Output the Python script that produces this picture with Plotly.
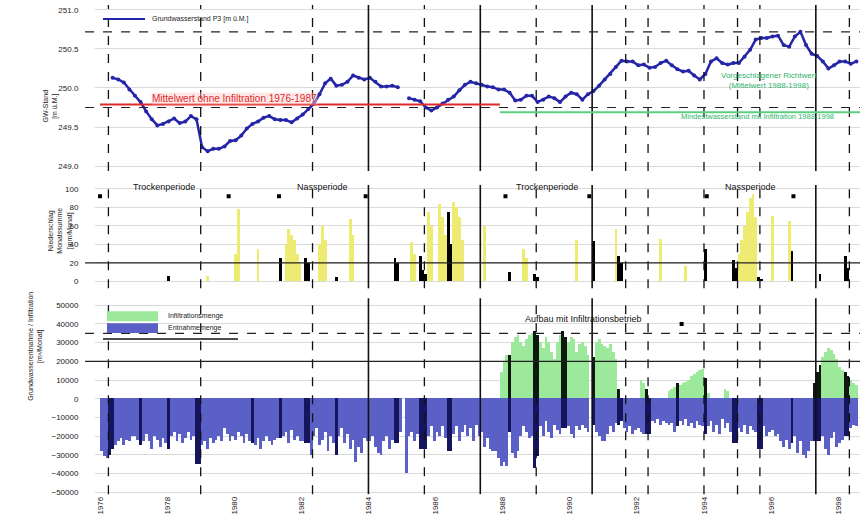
import plotly.graph_objects as go

FONT = "Liberation Sans, Arial, sans-serif"
first_year = 1976

# ---------------------------------------------------------------- data ----
# Groundwater level [m ü.M.], one reading every second month from 1976-05
gw_start = "1976-05"
gw_level = [
    250.13, 250.11, 250.07, 249.98, 249.90, 249.82, 249.70, 249.60,
    249.52, 249.54, 249.57, 249.61, 249.55, 249.57, 249.64, 249.60,
    249.24, 249.19, 249.22, 249.22, 249.25, 249.32, 249.33, 249.39,
    249.48, 249.54, 249.57, 249.62, 249.64, 249.60, 249.59, 249.59,
    249.56, 249.61, 249.66, 249.73, 249.80, 249.92, 250.06, 250.12,
    250.03, 250.04, 250.08, 250.16, 250.13, 250.11, 250.13, 250.08,
    250.02, 250.02, 250.03, 250.01, None, 249.87, 249.85, 249.83,
    249.75, 249.71, 249.75, 249.80, 249.85, 249.89, 249.97, 250.04,
    250.08, 250.06, 250.04, 250.02, 250.01, 249.98, 249.98, 249.94,
    249.84, 249.85, 249.90, 249.90, 249.82, 249.85, 249.89, 249.87,
    249.82, 249.89, 249.94, 249.92, 249.85, 249.92, 249.96, 250.03,
    250.11, 250.18, 250.27, 250.35, 250.34, 250.34, 250.29, 250.30,
    250.26, 250.27, 250.32, 250.35, 250.29, 250.24, 250.21, 250.22,
    250.16, 250.11, 250.18, 250.34, 250.38, 250.32, 250.30, 250.32,
    250.32, 250.40, 250.49, 250.62, 250.64, 250.64, 250.66, 250.67,
    250.55, 250.53, 250.66, 250.72, 250.55, 250.44, 250.41, 250.34,
    250.25, 250.29, 250.34, 250.34, 250.31, 250.34,
]

# Monthly precipitation [mm/Monat], from 1976-01
precip_start = "1976-01"
precip = [
    0, 0, 0, 0, 0, 0, 0, 0, 0, 0, 0, 0,            # 1976
    0, 0, 0, 0, 0, 0, 0, 0, 0, 0, 0, 0,            # 1977
    6, 0, 0, 0, 0, 0, 0, 0, 0, 0, 0, 0,            # 1978
    0, 0, 6, 0, 0, 0, 0, 0, 0, 0, 0, 0,            # 1979
    30, 78, 0, 0, 0, 0, 0, 0, 35, 0, 0, 0,         # 1980
    0, 0, 0, 0, 25, 0, 40, 57, 50, 45, 30, 20,     # 1981
    0, 25, 20, 0, 0, 0, 40, 60, 45, 0, 0, 0,       # 1982
    5, 0, 0, 0, 0, 68, 50, 0, 0, 0, 0, 0,          # 1983
    0, 0, 0, 0, 0, 0, 0, 0, 0, 25, 20, 0,          # 1984
    0, 0, 0, 43, 30, 0, 28, 12, 8, 75, 60, 0,      # 1985
    0, 84, 70, 50, 75, 40, 86, 80, 70, 45, 0, 0,   # 1986
    0, 0, 0, 0, 0, 60, 0, 0, 0, 0, 0, 0,           # 1987
    0, 0, 10, 0, 0, 0, 0, 35, 25, 0, 0, 8,         # 1988
    5, 0, 0, 0, 0, 0, 0, 0, 0, 0, 0, 0,            # 1989
    0, 0, 45, 0, 0, 0, 0, 0, 44, 0, 0, 0,          # 1990
    0, 0, 0, 0, 57, 27, 20, 0, 0, 0, 0, 0,         # 1991
    0, 0, 0, 0, 0, 0, 0, 0, 46, 0, 0, 0,           # 1992
    0, 0, 0, 0, 0, 17, 0, 0, 0, 0, 0, 0,           # 1993
    35, 0, 0, 0, 0, 0, 0, 0, 0, 0, 23, 15,         # 1994
    30, 45, 60, 75, 90, 95, 70, 5, 3, 0, 0, 0,     # 1995
    71, 0, 0, 0, 0, 0, 65, 33, 0, 0, 0, 0,         # 1996
    0, 0, 0, 0, 0, 8, 0, 0, 0, 0, 0, 0,            # 1997
    0, 0, 28, 15, 0, 0, 0,                         # 1998
]

# Monthly groundwater withdrawal [1000 m³/Monat], from 1976-01 (negative)
withdrawal_start = "1976-01"
withdrawal_k = [
    -28, -31, -32, -30, -27, -25, -23, -21, -25, -22, -23, -20,   # 1976
    -20, -22, -25, -23, -19, -23, -27, -20, -22, -26, -21, -24,   # 1977
    -27, -20, -18, -23, -19, -24, -21, -18, -22, -20, -35, -35,   # 1978
    -25, -23, -27, -21, -24, -22, -20, -23, -16, -19, -23, -20,   # 1979
    -22, -18, -20, -24, -19, -23, -24, -25, -21, -27, -23, -20,   # 1980
    -23, -25, -22, -21, -21, -20, -18, -24, -17, -22, -20, -23,   # 1981
    -23, -24, -24, -30, -20, -16, -25, -22, -18, -28, -20, -24,   # 1982
    -30, -20, -16, -24, -19, -27, -22, -34, -26, -29, -21, -23,   # 1983
    -23, -20, -26, -29, -30, -23, -20, -27, -22, -24, -24, -18,   # 1984
    0, -40, -20, -18, -23, -19, -27, -27, -27, -20, -15, -23,     # 1985
    -18, -20, -15, -21, -28, -28, -19, -15, -23, -18, -14, -20,   # 1986
    -16, -23, -14, -20, -18, -26, -21, -27, -28, -28, -32, -36,   # 1987
    -34, -36, -18, -29, -32, -28, -20, -15, -18, -21, -20, -37,   # 1988
    -31, -15, -20, -12, -18, -21, -14, -17, -19, -16, -16, -15,   # 1989
    -19, -21, -15, -17, -14, -16, -18, 0, -14, -18, -20, -23,     # 1990
    -23, -19, -15, -18, -13, -14, -12, -16, -18, -15, -19, -17,   # 1991
    -16, -18, -19, -19, -19, -12, -13, -11, -14, -12, -13, -14,   # 1992
    -13, -18, -15, -12, -14, -11, -15, -13, -16, -12, -14, -15,   # 1993
    -19, -15, -12, -18, -14, -19, -11, -16, -13, -18, -24, -24,   # 1994
    -16, -18, -14, -19, -15, -17, -18, -27, -27, -15, -20, -18,   # 1995
    -17, -20, -19, -23, -26, -22, -27, -24, -20, -29, -23, -30,   # 1996
    -32, -28, -23, -23, -23, -23, -20, -27, -30, -21, -18, -26,   # 1997
    -24, -22, -20, -20, -16, -14, -15,                            # 1998
]

# Monthly infiltration [1000 m³/Monat], from 1987-12
infiltration_start = "1987-12"
infiltration_k = [
    14,                                                # 1987
    20, 23, 23, 30, 33, 34, 30, 28, 32, 34, 35, 36,    # 1988
    34, 30, 27, 33, 30, 25, 21, 30, 34, 36, 33, 30,    # 1989
    33, 32, 25, 29, 30, 28, 23, 0, 22, 30, 32, 29,     # 1990
    28, 27, 29, 25, 21, 5, 0, 0, 0, 0, 0, 0,           # 1991
    0, 10, 8, 5, 0, 0, 0, 0, 0, 0, 0, 4,               # 1992
    5, 6, 8, 7, 8, 9, 10, 12, 13, 14, 15, 16,          # 1993
    11, 3, 0, 0, 0, 0, 0, 5, 4, 0, 0, 0,               # 1994
    0, 0, 0, 0, 0, 0, 0, 0, 0, 0, 0, 0,                # 1995
    0, 0, 0, 0, 0, 0, 0, 0, 0, 0, 0, 0,                # 1996
    0, 0, 0, 8, 14, 18, 22, 25, 27, 26, 24, 21,        # 1997
    17, 15, 14, 12, 10, 8, 7,                          # 1998
]

# Months of the measurement campaigns (drawn dark)
campaign_months = [
    "1976-04", "1976-05", "1977-03", "1978-01", "1978-11", "1978-12",
    "1980-07", "1981-05", "1982-02", "1982-03", "1983-01", "1984-10",
    "1984-11", "1985-07", "1985-08", "1985-09", "1986-05", "1986-06",
    "1988-03", "1988-12", "1989-01", "1989-10", "1989-11", "1990-09",
    "1991-06", "1991-07", "1992-04", "1992-05", "1993-03", "1994-01",
    "1994-11", "1994-12", "1995-08", "1995-09", "1996-08", "1997-04",
    "1997-05", "1997-06", "1998-03", "1998-04",
]

# Event markers (vertical lines)
events_dashed = ["1976-04", "1979-01", "1982-05", "1985-09", "1989-01",
                 "1991-09", "1992-05", "1994-01", "1995-01", "1995-09",
                 "1998-05"]
events_solid = ["1984-01", "1987-05", "1990-09", "1997-05"]

# Dry / wet periods
period_starts = ["1976-01", "1981-05", "1988-02", "1994-02"]
period_ends = ["1979-11", "1983-12", "1990-08", "1996-09"]
period_names = ["Trockenperiode", "Nassperiode", "Trockenperiode", "Nassperiode"]

# Reference levels
gw_band_upper = 250.72
gw_band_lower = 249.75
gw_mean_without = 249.79
gw_mean_with = 249.69
precip_threshold = 20
flow_dashed = 35000
flow_solid = 20000
infiltration_begin = "1987-12"
build_up_end = "1993-05"

year_ticks = list(range(1976, 1999, 2))
gw_ticks = [249.0, 249.5, 250.0, 250.5, 251.0]
precip_ticks = [0, 20, 40, 60, 80, 100]
flow_ticks = list(range(-50000, 50001, 10000))


# ------------------------------------------------------------ helpers ----
def month_index(tag):
    y, m = tag.split("-")
    return (int(y) - first_year) * 12 + int(m) - 1


def month_center(k):
    return first_year + (k + 0.5) / 12.0


def month_start(tag):
    return first_year + month_index(tag) / 12.0


campaign_set = {month_index(t) for t in campaign_months}

gw_x = [month_center(month_index(gw_start) + 2 * i) for i in range(len(gw_level))]

p0 = month_index(precip_start)
precip_x = [month_center(p0 + i) for i in range(len(precip))]
precip_col = ["#000000" if (p0 + i) in campaign_set else "#eeeb72"
              for i in range(len(precip))]

w0 = month_index(withdrawal_start)
wd_x = [month_center(w0 + i) for i in range(len(withdrawal_k))]
wd_y = [v * 1000 for v in withdrawal_k]
wd_col = ["#15155e" if (w0 + i) in campaign_set else "#5b60c6"
          for i in range(len(withdrawal_k))]

i0 = month_index(infiltration_start)
inf_x = [month_center(i0 + i) for i in range(len(infiltration_k))]
inf_y = [v * 1000 for v in infiltration_k]
inf_col = ["#0d1a0d" if (i0 + i) in campaign_set else "#9ce99c"
           for i in range(len(infiltration_k))]

x_lo, x_hi = 1975.85, 1998.65

# ------------------------------------------------------------- figure ----
fig = go.Figure()

fig.add_trace(go.Scatter(
    x=gw_x, y=gw_level, mode="lines+markers", connectgaps=False,
    line=dict(color="#2525a8", width=2.5), marker=dict(size=4, color="#2525a8"),
    xaxis="x", yaxis="y", showlegend=False))

fig.add_trace(go.Bar(
    x=precip_x, y=precip, width=1 / 12, marker=dict(color=precip_col, line=dict(width=0)),
    xaxis="x2", yaxis="y2", showlegend=False))

fig.add_trace(go.Bar(
    x=wd_x, y=wd_y, width=1 / 12, marker=dict(color=wd_col, line=dict(width=0)),
    xaxis="x3", yaxis="y3", showlegend=False))

fig.add_trace(go.Bar(
    x=inf_x, y=inf_y, width=1 / 12, marker=dict(color=inf_col, line=dict(width=0)),
    xaxis="x3", yaxis="y3", showlegend=False))

# period markers
dots_x = [month_start(t) for t in period_starts + period_ends]
fig.add_trace(go.Scatter(
    x=dots_x, y=[92] * len(dots_x), mode="markers",
    marker=dict(symbol="square", size=4, color="black"),
    xaxis="x2", yaxis="y2", showlegend=False))

fig.add_trace(go.Scatter(
    x=[month_start(build_up_end)], y=[40000], mode="markers",
    marker=dict(symbol="square", size=4, color="black"),
    xaxis="x3", yaxis="y3", showlegend=False))

tickfont = dict(family=FONT, size=8, color="#222")
grid = "#dadada"

fig.update_layout(
    width=864, height=523,
    margin=dict(l=95, r=4, t=0, b=0),
    paper_bgcolor="white", plot_bgcolor="white",
    barmode="overlay", bargap=0,
    font=dict(family=FONT, size=8, color="#222"),
    xaxis=dict(domain=[0, 1], range=[x_lo, x_hi], anchor="y",
               showticklabels=False, showgrid=False, zeroline=False, ticks=""),
    xaxis2=dict(domain=[0, 1], range=[x_lo, x_hi], anchor="y2", matches="x",
                showticklabels=False, showgrid=False, zeroline=False, ticks=""),
    xaxis3=dict(domain=[0, 1], range=[x_lo, x_hi], anchor="y3", matches="x",
                tickvals=year_ticks, ticktext=[str(y) for y in year_ticks],
                tickangle=-90, tickfont=tickfont, showgrid=False,
                zeroline=False, ticks=""),
    yaxis=dict(domain=[1 - 172 / 523, 1 - 5 / 523], range=[248.936, 251.064],
               tickvals=gw_ticks, tickformat=".1f", tickfont=tickfont,
               ticks="outside", ticklen=14, tickcolor="rgba(0,0,0,0)",
               showgrid=True, gridcolor=grid, zeroline=False),
    yaxis2=dict(domain=[1 - 290 / 523, 1 - 186 / 523], range=[-7.5, 104.3],
                tickvals=precip_ticks, tickfont=tickfont,
                ticks="outside", ticklen=14, tickcolor="rgba(0,0,0,0)",
                showgrid=True, gridcolor=grid, zeroline=False),
    yaxis3=dict(domain=[1 - 497 / 523, 1 - 300 / 523], range=[-51064, 53723],
                tickvals=flow_ticks, tickformat="d", tickfont=tickfont,
                ticks="outside", ticklen=14, tickcolor="rgba(0,0,0,0)",
                showgrid=True, gridcolor=grid, zeroline=False),
)

shapes = []
# vertical event lines in each panel
for ref in ["y domain", "y2 domain", "y3 domain"]:
    xr = {"y domain": "x", "y2 domain": "x2", "y3 domain": "x3"}[ref]
    for t in events_dashed:
        shapes.append(dict(type="line", xref=xr, yref=ref, x0=month_start(t), x1=month_start(t),
                           y0=0, y1=1, line=dict(color="#111", width=1.3, dash="dash")))
    for t in events_solid:
        shapes.append(dict(type="line", xref=xr, yref=ref, x0=month_start(t), x1=month_start(t),
                           y0=0, y1=1, line=dict(color="#111", width=1.6)))

# horizontal reference lines
for yv in (gw_band_upper, gw_band_lower):
    shapes.append(dict(type="line", xref="x domain", yref="y", x0=-0.013, x1=1,
                       y0=yv, y1=yv, line=dict(color="#222", width=1.2, dash="dash")))
shapes.append(dict(type="line", xref="x", yref="y", x0=first_year, x1=month_start(infiltration_begin),
                   y0=gw_mean_without, y1=gw_mean_without, line=dict(color="#e02a2a", width=2)))
shapes.append(dict(type="line", xref="x", yref="y", x0=month_start(infiltration_begin), x1=x_hi,
                   y0=gw_mean_with, y1=gw_mean_with, line=dict(color="#5ccf7e", width=2)))
shapes.append(dict(type="line", xref="x domain", yref="y2", x0=-0.013, x1=1,
                   y0=precip_threshold, y1=precip_threshold, line=dict(color="#222", width=1.2)))
shapes.append(dict(type="line", xref="x domain", yref="y3", x0=-0.013, x1=1,
                   y0=flow_dashed, y1=flow_dashed, line=dict(color="#222", width=1.2, dash="dash")))
shapes.append(dict(type="line", xref="x domain", yref="y3", x0=-0.013, x1=1,
                   y0=flow_solid, y1=flow_solid, line=dict(color="#222", width=1.2)))


def px_x(px):
    return (px - 95) / 765


def px_y(py):
    return 1 - py / 523


# legend of the top panel
shapes.append(dict(type="line", xref="paper", yref="paper", x0=px_x(103), x1=px_x(145),
                   y0=px_y(19), y1=px_y(19), line=dict(color="#2525a8", width=2)))
# legend of the bottom panel
shapes.append(dict(type="rect", xref="paper", yref="paper", x0=px_x(107), x1=px_x(158),
                   y0=px_y(323), y1=px_y(313), fillcolor="#9ce99c", line=dict(width=0)))
shapes.append(dict(type="rect", xref="paper", yref="paper", x0=px_x(107), x1=px_x(158),
                   y0=px_y(335), y1=px_y(325), fillcolor="#5b60c6", line=dict(width=0)))
shapes.append(dict(type="line", xref="paper", yref="paper", x0=px_x(103), x1=px_x(238),
                   y0=px_y(341), y1=px_y(341), line=dict(color="#111", width=1.5)))
fig.update_layout(shapes=shapes)

ann = []
ann.append(dict(xref="paper", yref="paper", x=px_x(150), y=px_y(19), xanchor="left",
                yanchor="middle", text="Grundwasserstand P3 [m ü.M.]", showarrow=False,
                font=dict(size=7, color="#222")))
ann.append(dict(xref="x", yref="y", x=1980.0, y=249.87, text="Mittelwert ohne Infiltration 1976-1987",
                showarrow=False, font=dict(size=10, color="#e02a2a"),
                bgcolor="rgba(255,205,205,0.45)", borderpad=0))
ann.append(dict(xref="x", yref="y", x=1995.95, y=250.09,
                text="Vorgeschlagener Richtwert<br>(Mittelwert 1988-1998)",
                showarrow=False, font=dict(size=8, color="#2fb36b")))
ann.append(dict(xref="x", yref="y", x=1995.6, y=249.64,
                text="Mindestwasserstand mit Infiltration 1988-1998",
                showarrow=False, font=dict(size=7.5, color="#2fb36b")))
for s, e, name in zip(period_starts, period_ends, period_names):
    ann.append(dict(xref="x2", yref="y2", x=(month_start(s) + month_start(e)) / 2, y=102,
                    text=name, showarrow=False, font=dict(size=9, color="#111")))
ann.append(dict(xref="x3", yref="y3", x=1990.4, y=42500, text="Aufbau mit Infiltrationsbetrieb",
                showarrow=False, font=dict(size=9, color="#111")))
ann.append(dict(xref="paper", yref="paper", x=px_x(166), y=px_y(318), xanchor="left",
                text="Infiltrationsmenge", showarrow=False, font=dict(size=7, color="#222")))
ann.append(dict(xref="paper", yref="paper", x=px_x(166), y=px_y(330), xanchor="left",
                text="Entnahmemenge", showarrow=False, font=dict(size=7, color="#222")))
# axis titles
ann.append(dict(xref="paper", yref="paper", x=px_x(40), y=px_y(88), textangle=-90,
                text="GW-Stand<br>[m ü.M.]", showarrow=False, font=dict(size=7, color="#222")))
ann.append(dict(xref="paper", yref="paper", x=px_x(45), y=px_y(232), textangle=-90,
                text="Niederschlag<br>Monatssumme<br>[mm/Monat]", showarrow=False,
                font=dict(size=7, color="#222")))
ann.append(dict(xref="paper", yref="paper", x=px_x(25), y=px_y(405), textangle=-90,
                text="Grundwasserentnahme / Infiltration<br>[m³/Monat]", showarrow=False,
                font=dict(size=7, color="#222")))
fig.update_layout(annotations=ann)

fig.write_html("out.html")
